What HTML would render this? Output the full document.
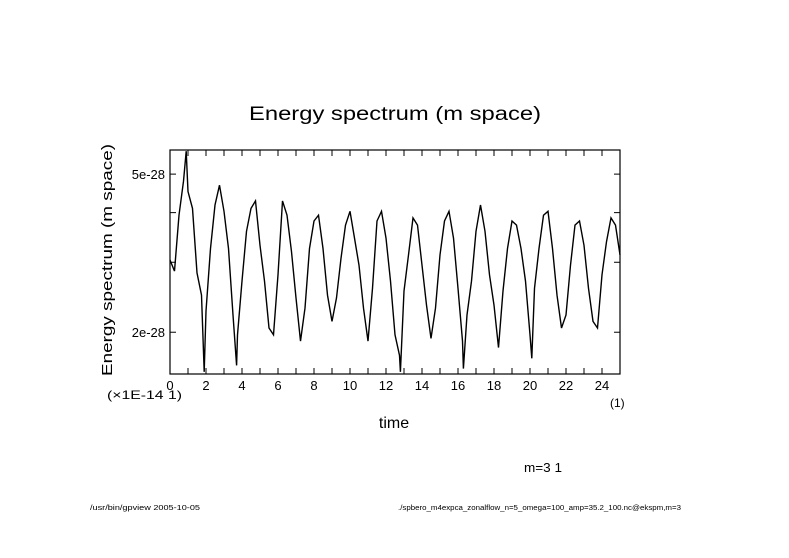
<!DOCTYPE html>
<html><head><meta charset="utf-8"><style>
html,body{margin:0;padding:0;background:#fff;}
svg{display:block;font-family:"Liberation Sans",sans-serif;}
</style></head><body>
<svg id="chart" width="789" height="558" viewBox="0 0 789 558" xmlns="http://www.w3.org/2000/svg">
<rect x="0" y="0" width="789" height="558" fill="#fff"/>
<text x="249" y="120" font-size="19" textLength="292" lengthAdjust="spacingAndGlyphs">Energy spectrum (m space)</text>
<text transform="translate(112,260) rotate(-90)" text-anchor="middle" font-size="15" textLength="232" lengthAdjust="spacingAndGlyphs">Energy spectrum (m space)</text>
<text x="394" y="428" text-anchor="middle" font-size="16">time</text>
<text x="107" y="399" font-size="12" textLength="75" lengthAdjust="spacingAndGlyphs">(×1E-14 1)</text>
<text x="610" y="407" font-size="12">(1)</text>
<text x="524" y="472" font-size="13" textLength="38" lengthAdjust="spacingAndGlyphs">m=3 1</text>
<text x="90" y="510" font-size="7" textLength="110" lengthAdjust="spacingAndGlyphs">/usr/bin/gpview  2005-10-05</text>
<text x="398" y="510" font-size="7" textLength="283" lengthAdjust="spacingAndGlyphs">./spbero_m4expca_zonalflow_n=5_omega=100_amp=35.2_100.nc@ekspm,m=3</text>
<g id="axes"></g>
<g id="series"></g>
<rect x="170" y="150" width="450" height="224" fill="none" stroke="#000" stroke-width="1.2"/>
</svg>
<script>
const xTicks = [0,1,2,3,4,5,6,7,8,9,10,11,12,13,14,15,16,17,18,19,20,21,22,23,24,25];
const xLabels = [0,2,4,6,8,10,12,14,16,18,20,22,24];
const yTicks = [2,3,4,5];
const yLabels = [2,5];
const times = [0,0.25,0.5,0.75,0.9,1,1.25,1.5,1.75,1.9,2,2.25,2.5,2.75,3,3.25,3.5,3.7,3.75,4,4.25,4.5,4.75,5,5.25,5.5,5.75,6,6.25,6.5,6.75,7,7.25,7.5,7.75,8,8.25,8.5,8.75,9,9.25,9.5,9.75,10,10.25,10.5,10.75,11,11.25,11.5,11.75,12,12.25,12.5,12.75,12.8,13,13.25,13.5,13.75,14,14.25,14.5,14.75,15,15.25,15.5,15.75,16,16.25,16.3,16.5,16.75,17,17.25,17.5,17.75,18,18.25,18.5,18.75,19,19.25,19.5,19.75,20,20.1,20.25,20.5,20.75,21,21.25,21.5,21.75,22,22.25,22.5,22.75,23,23.25,23.5,23.75,24,24.25,24.5,24.75,25];
const energy = [3.04,2.85,3.94,4.80,5.71,4.52,4.10,2.82,2.48,1.59,2.26,3.25,4.18,4.69,4.03,3.25,2.21,1.65,1.97,2.69,3.59,4.10,4.28,3.31,2.69,2.05,1.97,2.79,4.28,3.94,3.19,2.44,1.90,2.30,3.25,3.81,3.94,3.25,2.48,2.13,2.44,3.07,3.72,4.03,3.45,2.95,2.30,1.90,2.58,3.81,4.03,3.45,2.69,1.97,1.75,1.59,2.54,3.13,3.88,3.72,2.95,2.34,1.93,2.30,3.13,3.81,4.03,3.45,2.58,1.90,1.62,2.21,2.69,3.59,4.18,3.59,2.79,2.34,1.83,2.54,3.25,3.81,3.72,3.25,2.69,1.97,1.72,2.58,3.25,3.94,4.03,3.25,2.48,2.05,2.21,2.95,3.72,3.81,3.31,2.58,2.13,2.05,2.79,3.38,3.88,3.72,3.13];

const X0=170, X1=620, Y0=150, Y1=374;
const xMin=0, xMax=25;
const yMin=1.57, yMax=5.75;
function xs(t){return X0+(t-xMin)/(xMax-xMin)*(X1-X0);}
function ys(v){return Y1-(Math.log10(v)-Math.log10(yMin))/(Math.log10(yMax)-Math.log10(yMin))*(Y1-Y0);}
const NS="http://www.w3.org/2000/svg";
const axes=document.getElementById('axes');
function mk(tag,attrs,parent){const e=document.createElementNS(NS,tag);for(const k in attrs)e.setAttribute(k,attrs[k]);parent.appendChild(e);return e;}
xTicks.forEach(t=>{
  const x=xs(t);
  const a=mk('line',{x1:x,x2:x,y1:Y1,y2:Y1-6,stroke:'#000'},axes);
  
  
  const b=mk('line',{x1:x,x2:x,y1:Y0,y2:Y0+6,stroke:'#000'},axes);
  
  
});
xLabels.forEach(t=>{
  const e=mk('text',{x:xs(t),y:Y1+16,'text-anchor':'middle','font-size':13},axes);
  e.textContent=t;
  
  
});
yTicks.forEach(v=>{
  const y=ys(v);
  const a=mk('line',{x1:X0,x2:X0+6,y1:y,y2:y,stroke:'#000'},axes);
  
  
  const b=mk('line',{x1:X1,x2:X1-6,y1:y,y2:y,stroke:'#000'},axes);
  
  
});
yLabels.forEach(v=>{
  const e=mk('text',{x:X0-5,y:ys(v)+5,'text-anchor':'end','font-size':13},axes);
  e.textContent=v+'e-28';
  
  
});
let d='';
times.forEach((t,i)=>{
  const x=xs(t).toFixed(1), y=ys(energy[i]).toFixed(1);
  d+=(i===0?'M':'L')+x+','+y;
});
const p=mk('path',{d:d,fill:'none',stroke:'#000','stroke-width':1.4,'stroke-linejoin':'miter'},document.getElementById('series'));


</script>
</body></html>
